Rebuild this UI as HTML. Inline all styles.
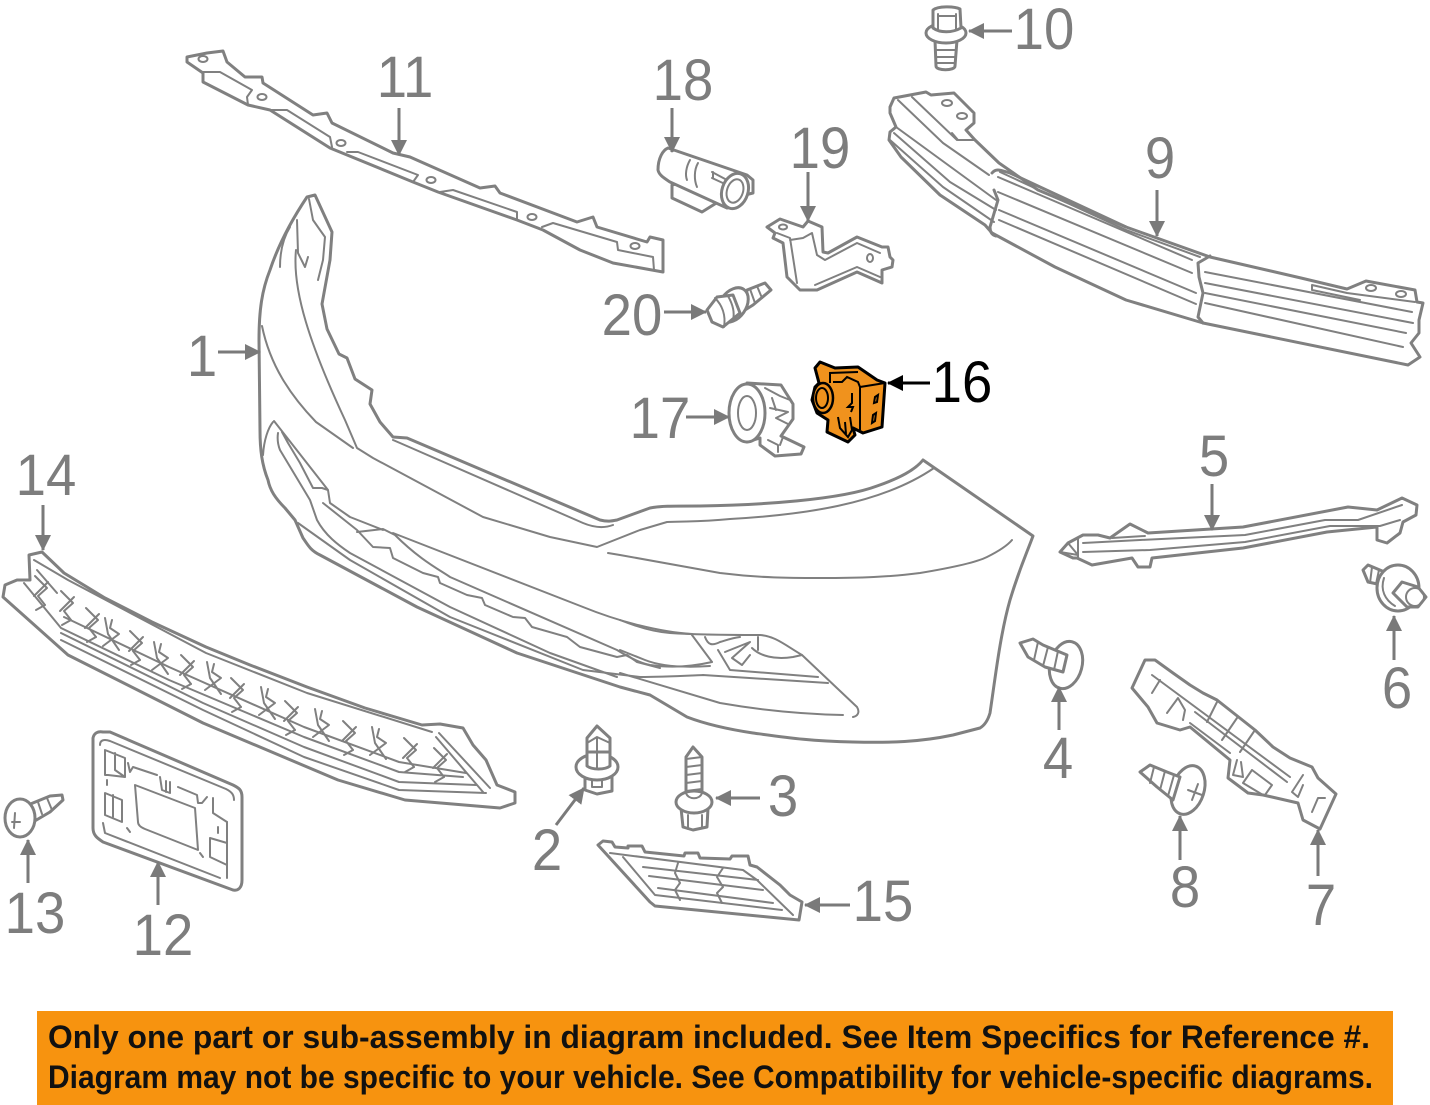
<!DOCTYPE html>
<html><head><meta charset="utf-8"><style>
html,body{margin:0;padding:0;background:#fff;width:1430px;height:1105px;overflow:hidden}
svg{display:block}
.g{fill:#fff;stroke:#808080;stroke-width:3;stroke-linejoin:round;stroke-linecap:round}
.n{fill:none;stroke:#808080;stroke-width:3;stroke-linejoin:round;stroke-linecap:round}
.t{fill:none;stroke:#808080;stroke-width:2;stroke-linejoin:round;stroke-linecap:round}
.a{stroke:#7a7a7a;stroke-width:3;fill:none}
.l{font-family:"Liberation Sans",sans-serif;font-size:58px;fill:#7d7d7d;text-anchor:middle;transform-box:fill-box;transform-origin:center;transform:scaleX(.94)}
.b{font-family:"Liberation Sans",sans-serif;font-size:32px;font-weight:bold;fill:#111}
</style></head><body>
<svg width="1430" height="1105" viewBox="0 0 1430 1105" xmlns="http://www.w3.org/2000/svg">
<defs>
<marker id="m" markerUnits="userSpaceOnUse" markerWidth="18" markerHeight="18" refX="15" refY="8" orient="auto"><path d="M0 0L16 8L0 16Z" fill="#7a7a7a"/></marker>
<marker id="k" markerUnits="userSpaceOnUse" markerWidth="18" markerHeight="18" refX="15" refY="8" orient="auto"><path d="M0 0L16 8L0 16Z" fill="#000"/></marker>
<g id="z1" class="t"><path d="M-5 -12L7 0L-2 8L5 17"/><path d="M8 -6L-6 8M5 17L-4 22"/></g>
<g id="z2" class="t"><path d="M-6 -18L-3 -2L8 14"/><path d="M1 -16L-1 -8L8 -2L-8 10"/></g>
</defs>

<!-- bumper -->
<path class="g" d="M307 197L315 195L332 232L330 260L322 304L327 329L339 354L347 358L355 379L372 390L370 404L380 422L393 437L407 438L600 520C608 522 612 521 617 520L650 508C660 506 670 506 700 506C760 505 840 500 877 486C900 478 915 470 923 460L1033 536C1026 555 1020 567 1010 600C1000 635 995 680 990 713C988 720 985 725 980 728L953 735C920 742 890 743 853 742C810 741 790 738 753 733C720 728 700 722 687 717L650 695L620 687L517 653L417 607L320 555C310 550 308 545 303 538L295 520L285 508C275 498 270 490 268 480C262 465 260 450 260 430L259 340C259 310 262 290 270 270C280 240 295 215 307 197Z"/>
<path class="t" d="M309 199L313 220L320 230L325 237L323 260L318 280M297 220L298 253L305 267L308 257M290 227C282 240 280 255 280 267"/>
<path class="t" d="M296 250C292 290 310 345 345 420L357 448L373 458L483 517L550 537L597 547L640 530L667 522C690 521 700 522 730 519C800 515 880 505 934 468"/>
<path class="t" d="M262 326C270 365 290 395 316 422L353 448"/>
<path class="t" d="M393 440L400 443L583 523C595 528 605 528 613 525"/>
<path class="t" d="M608 553L620 555L720 573C760 578 790 578 820 578C860 578 890 577 920 573C950 568 975 563 987 557C997 552 1007 546 1012 540"/>
<path class="t" d="M273 422C268 428 264 440 263 455"/>
<path class="t" d="M278 433C277 440 278 445 280 450L310 500L317 520C325 535 338 545 350 553L450 607L550 653L617 677"/>
<path class="t" d="M282 432L288 443L300 463L313 488H322L328 490M274 421L328 490L330 503L350 517L383 530"/>
<path class="t" d="M323 503L357 530L373 547L390 548L393 558L423 573L438 577L440 583L467 595L482 598L485 605L513 617L525 618L532 627L567 637L580 647L617 657L627 655L637 662L660 668"/>
<path class="t" d="M357 532L383 529L395 535C420 560 440 570 450 577L617 650C630 658 640 663 650 665C670 668 690 667 712 662"/>
<path class="t" d="M393 533L583 607C620 622 660 632 692 634"/>
<path class="t" d="M298 523L350 560L450 617L583 670L640 677C660 677 680 676 703 675L828 683"/>
<path class="t" d="M620 673L720 703C760 710 800 714 843 715"/>
<path class="t" d="M620 620C640 628 655 632 670 633C700 635 740 635 760 635C775 636 785 645 802 655L857 707C860 712 858 716 853 717"/>
<path class="t" d="M692 635L712 662M620 650L645 660C660 666 680 668 710 666M718 650L730 670L818 677M705 637C708 645 712 646 720 642C727 640 732 638 740 637M725 652L750 642L732 658L742 665L750 655M752 648C760 656 775 660 793 657L802 655M758 637V650"/>

<!-- 11 -->
<path class="g" d="M187 57L207 53L223 51L227 62L245 77H262L263 83L313 115L327 113L332 123L393 153L410 157L480 188L495 186L500 193L577 222L593 217L597 227L647 242L650 237L663 240V272L613 263L580 250L543 230L517 220L438 192L413 182L330 148L270 110L248 105L203 82V73L187 62Z"/>
<path class="t" d="M203 72H220L252 90L247 97L248 105M270 110H287L330 137L332 147M347 152H358L418 175L413 182M440 192L453 190L517 212V220M542 227L553 223L617 242L618 250L653 257L654 270"/>
<ellipse class="t" cx="203" cy="59" rx="4.5" ry="3"/><ellipse class="t" cx="262" cy="97" rx="4.5" ry="3"/><ellipse class="t" cx="341" cy="143" rx="4.5" ry="3"/><ellipse class="t" cx="431" cy="180" rx="4.5" ry="3"/><ellipse class="t" cx="532" cy="217" rx="4.5" ry="3"/><ellipse class="t" cx="635" cy="246" rx="4.5" ry="3"/>

<!-- 18 sensor -->
<path class="g" d="M672 185V198L702 212L718 202V195L690 180Z"/>
<path class="g" d="M658 170C658 158 663 150 668 148L747 175L753 180V193L745 195L740 205L727 208L670 182C664 178 659 175 658 170Z"/>
<path class="t" d="M690 160C686 167 685 175 687 180M698 163C694 170 694 180 697 187M712 172L727 180M712 178L725 184M713 172V178"/>
<ellipse class="g" cx="735" cy="191" rx="13" ry="18" transform="rotate(18 735 191)"/>
<ellipse class="t" cx="735" cy="191" rx="8" ry="12" transform="rotate(18 735 191)"/>

<!-- 19 bracket -->
<path class="g" d="M767 227L780 219L803 227L808 221L822 227L823 252L828 253L857 237L882 247H888L890 257L893 260L892 267L882 270V283L857 272L817 290H800L787 277L783 243L773 238L775 233Z"/>
<path class="t" d="M777 233L790 238L797 283M803 238L812 233L817 255L825 260L857 243L880 253M815 285L857 267L880 277M790 240L803 238"/>
<ellipse class="t" cx="783" cy="227" rx="4" ry="2.5"/><ellipse class="t" cx="870" cy="258" rx="3" ry="4"/>

<!-- 20 bolt -->
<path class="g" d="M747 290L765 283L771 290L753 305L745 310Z"/>
<path class="t" d="M750 289L755 303M757 286L762 298"/>
<ellipse class="g" cx="733" cy="305" rx="13" ry="19" transform="rotate(35 733 305)"/>
<path class="g" d="M707 310L717 297L733 295L740 313L723 327L712 322Z"/>
<path class="t" d="M715 298C722 305 726 315 724 327M728 296C732 303 735 312 733 320"/>

<!-- 9 beam -->
<path class="g" d="M890 107L894 98L910 95L926 92L931 95L954 93L974 113V123L966 130L975 140L999 163L1038 190L1126 227L1210 257L1301 278L1347 289L1366 281L1415 290L1417 302L1423 303L1419 320V333L1411 343L1420 357L1408 365L1203 323L1126 300L1055 267L992 233L985 225L940 195L901 157L889 140L890 132L896 127L890 113Z"/>
<path class="t" d="M898 100L943 143L989 175M912 97L957 140M952 133L958 140H975M896 127L996 200M894 133L950 182L996 210M890 140L943 187L994 222"/>
<path class="n" d="M992 173C996 168 1000 170 1010 173L1126 227M994 190L998 200L990 227C990 232 992 235 996 236"/>
<path class="t" d="M1000 172L1126 230L1200 257"/>
<path class="t" d="M998 177L1192 260M998 192L1192 273M999 210L1196 293M999 220L1196 304"/>
<path class="n" d="M1210 256L1198 263L1199 277L1203 293L1198 317L1203 323"/>
<path class="t" d="M1205 272L1412 312M1205 283L1413 323M1205 293L1406 333M1205 303L1403 347M1312 285L1347 293L1415 302M1312 285V290L1360 300"/>
<ellipse class="t" cx="947" cy="103" rx="5" ry="3"/><ellipse class="t" cx="962" cy="116" rx="5" ry="3"/><ellipse class="t" cx="1371" cy="288" rx="5" ry="3"/><ellipse class="t" cx="1401" cy="294" rx="5" ry="3"/>

<!-- 10 bolt -->
<path class="g" d="M935 40H957L955 66C955 71 936 71 936 66Z"/>
<path class="t" d="M935 50H956M936 57H955M936 63H955"/>
<ellipse class="g" cx="946" cy="33" rx="20" ry="10"/>
<path class="g" d="M933 10C938 6 954 6 960 9L961 28C952 33 940 33 933 28Z"/>
<path class="t" d="M938 14V30M956 14V30M938 16H956"/>

<!-- 17 ring -->
<path class="g" d="M747 383L781 385L793 404V419L781 436L804 447L801 454L775 456L760 445V438L747 442Z"/>
<path class="t" d="M765 388L780 396L790 400M772 398L776 410M770 408L788 412L776 418L788 424M768 440L778 445L778 452M783 437L780 445"/>
<ellipse class="g" cx="747" cy="413" rx="18" ry="29"/>
<ellipse class="t" cx="747" cy="413" rx="9" ry="17"/>

<!-- 16 orange -->
<path d="M815 368L820 362L835 368L858 367L877 380L885 383L882 427L863 433L853 428L855 435L848 442L827 432L828 420L817 413L812 400L815 387L819 383Z" fill="#f0921d" stroke="#000" stroke-width="3" stroke-linejoin="round"/>
<ellipse cx="823" cy="398" rx="10" ry="15" fill="#f0921d" stroke="#000" stroke-width="2.5"/>
<ellipse cx="822" cy="398" rx="6" ry="10" fill="none" stroke="#000" stroke-width="2"/>
<path fill="none" stroke="#000" stroke-width="2" d="M830 383V373L858 372M833 382L842 382L847 377L858 382L860 387V430M860 387L885 383M875 397L878 395L877 402L874 403ZM873 415L876 413L875 421L872 423ZM852 393V403L848 407H853L851 412M838 417L840 428L848 437L852 430L850 417M845 422L846 434"/>

<!-- 5 -->
<path class="g" d="M1060 552L1068 543L1083 535L1098 535L1110 538L1130 524L1148 533L1243 527L1348 507L1377 510L1402 498L1417 505L1416 515L1403 522L1400 533L1387 543L1377 540V527L1327 532L1243 548L1152 558L1150 567L1138 567L1132 558L1092 565L1077 558L1073 558Z"/>
<path class="t" d="M1083 543L1140 540L1245 535L1325 520L1358 520L1402 505M1083 552L1150 550L1245 542L1330 526L1380 526L1400 520M1078 538V558M1068 543L1078 555L1060 552M1112 538L1145 536"/>

<!-- 6 -->
<path class="g" d="M1363 570L1368 565L1387 573L1382 585L1368 582Z"/>
<path class="t" d="M1372 567L1370 583M1379 570L1376 584"/>
<ellipse class="g" cx="1398" cy="588" rx="21" ry="23"/>
<path class="t" d="M1384 578C1380 590 1385 600 1395 606"/>
<path class="g" d="M1393 593L1402 582L1418 587L1426 597L1418 607L1407 607Z"/>
<circle class="t" cx="1415" cy="597" r="9"/>

<!-- 4 -->
<ellipse class="g" cx="1066" cy="665" rx="16" ry="24" transform="rotate(15 1066 665)"/>
<path class="g" d="M1020 643L1033 639L1043 645L1067 655L1063 672L1045 667L1028 657Z"/>
<path class="t" d="M1038 642L1034 660M1048 647L1043 666M1058 651L1054 670"/>

<!-- 7 -->
<path class="g" d="M1145 660L1155 660L1173 673L1190 685L1203 693L1217 700L1255 730L1273 747L1290 758L1312 767L1318 778L1336 794L1320 829L1303 820L1298 803L1263 795L1248 793L1228 778L1230 760L1190 727L1180 730L1157 723L1148 707L1132 688Z"/>
<path class="t" d="M1152 675L1290 777M1195 712L1287 782M1190 723L1230 753M1160 680L1152 693M1217 702L1207 722M1237 718L1222 740M1255 730L1240 752M1167 713L1178 698L1185 710L1183 720M1237 760L1233 775L1243 777L1241 762M1252 770L1243 783L1263 795M1252 770L1272 785L1265 795M1303 775L1292 792L1298 797L1303 785M1325 798H1318L1312 812"/>

<!-- 8 -->
<ellipse class="g" cx="1188" cy="790" rx="16" ry="25" transform="rotate(18 1188 790)"/>
<path class="g" d="M1140 772L1150 765L1167 772L1180 777L1173 800L1157 787Z"/>
<path class="t" d="M1154 767L1150 783M1165 771L1160 790M1174 775L1168 796M1188 790L1202 795M1192 800L1198 784"/>

<!-- 14 grille -->
<path class="g" d="M29 555L42 552L64 573L105 598L152 622L206 647L250 665L307 687L365 708L422 725L440 724L463 728L473 745L486 760L497 785L515 792V803L500 808L405 800L338 780L203 723L68 655L3 597L5 585L17 580L30 580Z"/>
<path class="t" d="M34 560L68 580L206 653L307 693L432 732M37 570L57 593M64 617L169 667L304 727L399 762L466 773M24 583L61 628L169 680L304 737L399 772L463 777M61 633L203 703L304 747L399 782L476 785M61 640L203 710L304 757L399 790L486 793M439 733L490 788M436 737L483 792"/>
<use href="#z1" x="40" y="588"/><use href="#z1" x="66" y="603"/><use href="#z1" x="91" y="620"/><use href="#z2" x="111" y="636"/><use href="#z1" x="135" y="643"/><use href="#z2" x="160" y="660"/><use href="#z1" x="186" y="667"/><use href="#z2" x="213" y="680"/><use href="#z1" x="236" y="690"/><use href="#z2" x="267" y="705"/><use href="#z1" x="290" y="713"/><use href="#z2" x="321" y="727"/><use href="#z1" x="348" y="733"/><use href="#z2" x="378" y="745"/><use href="#z1" x="409" y="750"/><use href="#z1" x="439" y="760"/>

<!-- 12 plate -->
<path class="g" d="M93 738C94 733 98 731 103 732L110 732L233 785C239 788 242 790 242 797V880C242 888 238 891 233 890L103 842C97 838 93 835 93 828Z"/>
<path class="t" d="M100 745C100 740 104 739 110 741L226 789C232 792 234 795 234 800M103 823L105 833L220 878M227 878V822"/>
<path class="t" d="M135 785L195 808L198 850L145 829C140 827 138 825 138 822Z"/>
<path class="t" d="M105 750V775H108L125 777V758L105 750M115 753V770L125 777M107 780V785M105 793L122 800V822L105 815ZM113 795V817M128 763L130 772L133 767L157 775M160 777L162 790L170 793V782M166 781V792M178 787L197 795L198 803H202L207 797M213 798V813L227 822M218 827V833M210 838V857L227 865M227 843L210 838M127 828L130 832M200 853L203 857"/>

<!-- 13 screw -->
<path class="g" d="M28 805L50 796L62 795L63 800L50 812L33 822Z"/>
<path class="t" d="M38 802L42 814M47 798L52 810"/>
<ellipse class="g" cx="20" cy="818" rx="15" ry="19"/>
<path class="t" d="M12 822H20M15 813L14 828"/>

<!-- 2 clip -->
<path class="g" d="M585 777V790L597 794L612 791V777Z"/>
<path class="t" d="M592 780V787H602V780"/>
<path class="g" d="M587 757V738L597 726L610 738V757Z"/>
<path class="t" d="M587 743L597 737L610 743M597 737V768"/>
<ellipse class="g" cx="597" cy="767" rx="21" ry="13"/>
<path class="g" d="M587 752V766C592 770 605 770 610 766V752Z" stroke="none"/>
<path class="t" d="M587 750V766C592 770 605 770 610 766V750M597 750V768"/>

<!-- 3 bolt -->
<path class="g" d="M686 792V757L693 747L702 757V792Z"/>
<path class="t" d="M686 759L702 757M686 767L702 765M686 775L702 773M686 783L702 781M686 791L702 789"/>
<path class="g" d="M681 808L683 827L693 830L707 827L708 808Z"/>
<path class="t" d="M688 815V829M702 815V828"/>
<ellipse class="g" cx="694" cy="802" rx="18" ry="11"/>
<path class="t" d="M686 793C688 800 700 800 702 793"/>

<!-- 15 -->
<path class="g" d="M598 845L603 841L612 842L615 847L628 848V846L642 846L645 852L684 856L685 853L698 853L700 858L730 859L732 856L748 856L750 865L757 867L780 885L790 895L802 902L799 920L655 906L650 902Z"/>
<path class="t" d="M610 853L743 870L757 880L793 915M623 857L655 895L782 910M643 867L758 880M649 876L763 890M658 888L773 903"/>
<path class="t" d="M678 863L675 873L680 883L675 890L680 900M723 868L717 877L723 887L717 893L722 903"/>

<!-- arrows -->
<g class="a">
<path d="M399 108V155" marker-end="url(#m)"/>
<path d="M672 108V152" marker-end="url(#m)"/>
<path d="M808 172V221" marker-end="url(#m)"/>
<path d="M1012 31H969" marker-end="url(#m)"/>
<path d="M1157 190V236" marker-end="url(#m)"/>
<path d="M664 312H706" marker-end="url(#m)"/>
<path d="M218 352H260" marker-end="url(#m)"/>
<path d="M686 417H729" marker-end="url(#m)"/>
<path d="M1212 484V530" marker-end="url(#m)"/>
<path d="M43 505V550" marker-end="url(#m)"/>
<path d="M1394 660V616" marker-end="url(#m)"/>
<path d="M1059 730V687" marker-end="url(#m)"/>
<path d="M556 825L584 788" marker-end="url(#m)"/>
<path d="M760 798H716" marker-end="url(#m)"/>
<path d="M28 883V840" marker-end="url(#m)"/>
<path d="M158 905V862" marker-end="url(#m)"/>
<path d="M1180 860V816" marker-end="url(#m)"/>
<path d="M1318 876V830" marker-end="url(#m)"/>
<path d="M850 905H805" marker-end="url(#m)"/>
</g>
<path d="M930 383H888" stroke="#000" stroke-width="3" fill="none" marker-end="url(#k)"/>

<!-- labels -->
<text class="l" x="405" y="97">11</text>
<text class="l" x="683" y="100">18</text>
<text class="l" x="820" y="168">19</text>
<text class="l" x="1044" y="49">10</text>
<text class="l" x="1160" y="178">9</text>
<text class="l" x="632" y="335">20</text>
<text class="l" x="202" y="376">1</text>
<text class="l" x="962" y="402" style="fill:#000">16</text>
<text class="l" x="660" y="438">17</text>
<text class="l" x="1214" y="476">5</text>
<text class="l" x="46" y="495">14</text>
<text class="l" x="1397" y="708">6</text>
<text class="l" x="1058" y="778">4</text>
<text class="l" x="547" y="870">2</text>
<text class="l" x="783" y="816">3</text>
<text class="l" x="35" y="933">13</text>
<text class="l" x="163" y="955">12</text>
<text class="l" x="1185" y="907">8</text>
<text class="l" x="1321" y="925">7</text>
<text class="l" x="883" y="921">15</text>

<!-- banner -->
<rect x="37" y="1011" width="1356" height="94" fill="#f7930f"/>
<text class="b" x="48" y="1048" textLength="1322" lengthAdjust="spacingAndGlyphs">Only one part or sub-assembly in diagram included. See Item Specifics for Reference #.</text>
<text class="b" x="48" y="1088" textLength="1325" lengthAdjust="spacingAndGlyphs">Diagram may not be specific to your vehicle. See Compatibility for vehicle-specific diagrams.</text>
</svg>
</body></html>
